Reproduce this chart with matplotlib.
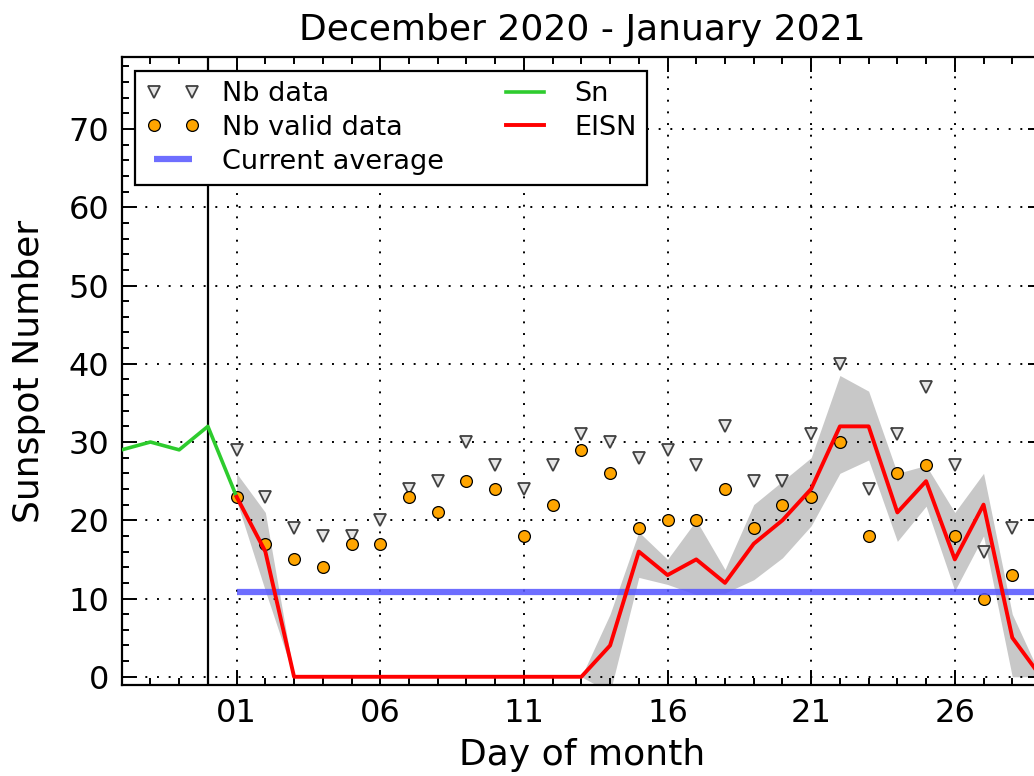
import matplotlib
matplotlib.use('Agg')
import matplotlib.pyplot as plt
from matplotlib.ticker import MultipleLocator, FixedLocator, FixedFormatter

# ---- data ----
title = "December 2020 - January 2021"
sn_days = [-3, -2, -1, 0, 1]
sn_values = [29, 30, 29, 32, 23]

eisn_days = [1, 2, 3, 4, 5, 6, 7, 8, 9, 10, 11, 12, 13, 14, 15, 16, 17, 18, 19, 20,
             21, 22, 23, 24, 25, 26, 27, 28, 29]
eisn_values = [23, 16, 0, 0, 0, 0, 0, 0, 0, 0, 0, 0, 0, 4, 16, 13, 15, 12, 17, 20,
               24, 32, 32, 21, 25, 15, 22, 5, 0]
eisn_upper = [26, 21, 0, 0, 0, 0, 0, 0, 0, 0, 0, 0, 0, 8, 18.5, 15, 20, 13.7, 22, 25,
              28, 38.5, 36.5, 26, 27, 21, 26, 8, 0]
eisn_lower = [22.5, 11, 0, 0, 0, 0, 0, 0, 0, 0, 0, 0, 0, -2, 12.7, 11.8, 10.5, 10.7, 12.4, 15.2,
              19.3, 26, 27.7, 17.3, 21.8, 11, 18, 0, 0]

nb_days = [1, 2, 3, 4, 5, 6, 7, 8, 9, 10, 11, 12, 13, 14, 15, 16, 17, 18, 19, 20,
           21, 22, 23, 24, 25, 26, 27, 28]
nb_data = [29, 23, 19, 18, 18, 20, 24, 25, 30, 27, 24, 27, 31, 30, 28, 29, 27, 32, 25, 25,
           31, 40, 24, 31, 37, 27, 16, 19]
nb_valid = [23, 17, 15, 14, 17, 17, 23, 21, 25, 24, 18, 22, 29, 26, 19, 20, 20, 24, 19, 22,
            23, 30, 18, 26, 27, 18, 10, 13]

avg_days = [1, 31]
avg_values = [10.8, 10.8]

xtick_pos = [1, 6, 11, 16, 21, 26]
xtick_labels = ['01', '06', '11', '16', '21', '26']
ytick_pos = [0, 10, 20, 30, 40, 50, 60, 70]

# ---- figure ----
W, H = 1034, 776
fig = plt.figure(figsize=(W / 100, H / 100), dpi=100)
ax_left, ax_right, ax_top, ax_bot = 121.7, 1043.3, 57, 685
ax = fig.add_axes([ax_left / W, 1 - ax_bot / H, (ax_right - ax_left) / W, (ax_bot - ax_top) / H])

ax.fill_between(eisn_days, eisn_lower, eisn_upper, color='#c8c8c8', lw=0, zorder=1)
ax.plot(nb_days, nb_data, linestyle='none', marker='v', markersize=8.5,
        mfc='#e6e6e6', mec='#404040', mew=1.3, label='Nb data', zorder=3)
ax.plot(nb_days, nb_valid, linestyle='none', marker='o', markersize=8.5,
        mfc='#ffa500', mec='#000000', mew=0.9, label='Nb valid data', zorder=3)
ax.plot(avg_days, avg_values, color='#5555ff', alpha=0.85, lw=4.5,
        label='Current average', zorder=4, solid_capstyle='butt')
ax.plot(sn_days, sn_values, color='#2ecc2e', lw=2.6, label='Sn', zorder=5)
ax.plot(eisn_days, eisn_values, color='#ff0000', lw=2.8, label='EISN', zorder=5)
ax.axvline(0, color='k', lw=1.6, zorder=2)

ax.set_xlim(-3, 29.08)
ax.set_ylim(-1.05, 79.2)

ax.xaxis.set_major_locator(FixedLocator(xtick_pos))
ax.xaxis.set_major_formatter(FixedFormatter(xtick_labels))
ax.xaxis.set_minor_locator(MultipleLocator(1))
ax.yaxis.set_major_locator(FixedLocator(ytick_pos))
ax.yaxis.set_minor_locator(MultipleLocator(2))

ax.tick_params(which='both', direction='in', top=True, right=True, width=1.4, colors='k')
ax.tick_params(which='major', length=11, labelsize=23, pad=9)
ax.tick_params(which='minor', length=5)
for s in ax.spines.values():
    s.set_linewidth(1.6)

ax.grid(True, which='major', color='k', linestyle=(0, (1, 5)), lw=1.4)
ax.set_axisbelow(False)

ax.set_title(title, fontsize=26, pad=12)
ax.set_xlabel('Day of month', fontsize=26, labelpad=7)
ax.set_ylabel('Sunspot Number', fontsize=26, labelpad=16)

leg = ax.legend(loc='upper left', ncol=2, numpoints=2, fontsize=19.5,
                fancybox=False, framealpha=1, edgecolor='k', labelspacing=0.28,
                borderpad=0.4, handlelength=2.0, handletextpad=0.8, columnspacing=2.0)
leg.get_frame().set_linewidth(1.6)
leg.set_zorder(10)

fig.savefig('out.png', dpi=100)
